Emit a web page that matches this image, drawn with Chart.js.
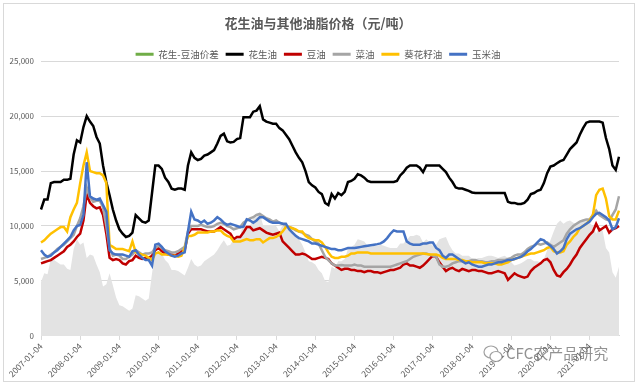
<!DOCTYPE html>
<html>
<head>
<meta charset="utf-8">
<script src="https://cdn.jsdelivr.net/npm/chart.js@4/dist/chart.umd.min.js"></script>
<style>
  body { margin: 0; background: #fff; }
  #wrap { position: relative; width: 638px; height: 385px; }
  #frame { position: absolute; left: 3px; top: 3px; width: 630px; height: 377px; border: 1px solid #d9d9d9; pointer-events: none; }
  #mark { position: absolute; left: 483px; top: 342px; color: rgba(100,100,100,0.7); font: 15px "Noto Sans CJK SC", sans-serif; white-space: nowrap; }
  #mark svg { vertical-align: -5px; margin-right: 3px; }
</style>
</head>
<body>
<div id="wrap">
  <canvas id="chart" width="638" height="385"></canvas>
  <div id="frame"></div>
  <div id="mark"><svg width="20" height="20" viewBox="0 0 20 20"><ellipse cx="8" cy="8" rx="7" ry="6" fill="none" stroke="rgba(120,120,120,0.7)" stroke-width="1.2"/><ellipse cx="13" cy="12.5" rx="6" ry="5" fill="#fff" stroke="rgba(120,120,120,0.7)" stroke-width="1.2"/></svg>CFC农产品研究</div>
</div>
<script>
/* tick labels: one per year, data is monthly (2007-01 .. 2021-10) */
var yearLabels = ['2007-01-04', '2008-01-04', '2009-01-04', '2010-01-04', '2011-01-04',
  '2012-01-04', '2013-01-04', '2014-01-04', '2015-01-04', '2016-01-04', '2017-01-04',
  '2018-01-04', '2019-01-04', '2020-01-04', '2021-01-04'];

var seriesNames = ['花生-豆油价差', '花生油', '豆油', '菜油', '葵花籽油', '玉米油'];

var spread = [
  4900, 5700, 5600, 7000, 6900, 6700, 6500, 6500, 6100, 6000, 7900, 8800,
  8300, 8500, 7100, 7400, 7300, 6500, 5800, 4500, 4700, 5700, 4600, 3500,
  2800, 2700, 2500, 2300, 2500, 3700, 3600, 3400, 3200, 3400, 5700, 7700,
  7500, 7500, 6900, 6600, 6000, 6000, 5900, 5700, 5500, 6200, 7000, 6500,
  6300, 6400, 6800, 7000, 7200, 7400, 7800, 8300, 8700, 8200, 8300, 8850,
  8900, 9000, 10500, 10000, 10000, 10800, 10800, 11100, 10100, 10100, 10100, 10100,
  10000, 9500, 10100, 10000, 9900, 9600, 9300, 8800, 8300, 7600, 6800, 6700,
  6500, 6000, 5700, 5000, 4900, 6300, 6100, 6800, 6800, 7000, 7900, 8100,
  8300, 8800, 8700, 8600, 8200, 8100, 8200, 8200, 8300, 8200, 8100, 8000,
  8000, 8000, 8400, 8400, 8700, 9100, 9100, 9200, 9100, 8500, 8800, 8500,
  8200, 8300, 8800, 8900, 9000, 8300, 7800, 7500, 7500, 7300, 7300, 7300,
  7050, 7000, 7100, 7100, 7200, 7300, 7300, 7200, 7100, 7200, 7300, 7100,
  6700, 6400, 6500, 6600, 6800, 7000, 7000, 6800, 6800, 6700, 7000, 7800,
  8700, 9500, 10200, 10500, 10200, 10400, 10500, 10300, 10200, 10300, 10500, 10600,
  10300, 10000, 9300, 9900, 9600, 8000, 7600, 5800, 5300, 6300
];

var peanutOil = [
  11500, 12400, 12400, 13900, 14000, 14000, 14000, 14200, 14200, 14300, 16500, 17800,
  17600, 19000, 20000, 19500, 19100, 18100, 17500, 15500, 14000, 12800, 11500, 10500,
  9700, 9300, 9000, 9100, 9400, 11000, 10700, 10400, 10300, 10500, 13000, 15500,
  15500, 15200, 14400, 14000, 13400, 13300, 13400, 13400, 13300, 15500, 16700, 16200,
  16000, 16100, 16400, 16500, 16700, 16900, 17500, 18200, 18400, 17700, 17600, 17650,
  17900, 18000, 19900, 19900, 19900, 20400, 20500, 20900, 19700, 19500, 19400, 19300,
  19300, 18900, 18700, 18300, 17900, 17300, 16700, 16200, 15800, 15000, 14000, 13700,
  13500, 13100, 12900, 12100, 11900, 12900, 12500, 13000, 12800, 13100, 14000, 14100,
  14300, 14700, 14600, 14400, 14100, 14000, 14000, 14000, 14000, 14000, 14000, 14000,
  14000, 14100, 14600, 14900, 15300, 15500, 15500, 15500, 15300, 14900, 15500, 15500,
  15500, 15500, 15500, 15200, 14900, 14400, 14000, 13500, 13400, 13400, 13300, 13200,
  13050, 13000, 13000, 13000, 13000, 13000, 13000, 13000, 13000, 13000, 13000, 12200,
  12100, 12100, 12000, 12000, 12100, 12400, 12900, 13000, 13200, 13300, 13900, 14800,
  15400, 15500, 15700, 15900, 16000, 16500, 17000, 17300, 17600, 18300, 18900, 19400,
  19500, 19500, 19500, 19500, 19400, 18000, 17000, 15500, 15100, 16300
];

var soyOil = [
  6600, 6700, 6800, 6900, 7100, 7300, 7500, 7700, 8100, 8300, 8600, 9000,
  9300, 10500, 12900, 12100, 11800, 11600, 11700, 11000, 9300, 7100, 6900, 7000,
  6900, 6600, 6500, 6800, 6900, 7300, 7100, 7000, 7100, 7100, 7300, 7800,
  8000, 7700, 7500, 7400, 7400, 7300, 7500, 7700, 7800, 9300, 9700, 9700,
  9700, 9700, 9600, 9500, 9500, 9500, 9700, 9900, 9700, 9500, 9300, 8800,
  9000, 9000, 9400, 9900, 9900, 9600, 9700, 9800, 9600, 9400, 9300, 9200,
  9300, 9400, 8600, 8300, 8000, 7700, 7400, 7400, 7500, 7400, 7200, 7000,
  7000, 7100, 7200, 7100, 7000, 6600, 6400, 6200, 6000, 6100, 6100, 6000,
  6000, 5900, 5900, 5800, 5900, 5900, 5800, 5800, 5700, 5800, 5900, 6000,
  6000, 6100, 6200, 6500, 6600, 6400, 6400, 6300, 6200, 6400, 6700, 7000,
  7300, 7200, 6700, 6300, 5900, 6100, 6200, 6000, 5900, 6100, 6000, 5900,
  6000, 6000, 5900, 5900, 5800, 5700, 5700, 5800, 5900, 5800, 5700, 5100,
  5400, 5700, 5500, 5400, 5300, 5400, 5900, 6200, 6400, 6600, 6900, 7000,
  6700, 6000, 5500, 5400, 5800, 6100, 6500, 7000, 7400, 8000, 8400, 8800,
  9200, 9500, 10200, 9600, 9800, 10000, 9400, 9700, 9800, 10000
];

var rapeOil = [
  7000, 7100, 7200, 7400, 7600, 7900, 8100, 8300, 8600, 8900, 9200, 10000,
  10700, 11800, 13500, 12600, 12200, 12300, 12300, 11700, 10000, 8000, 7300, 7400,
  7300, 7000, 7000, 7200, 7400, 7800, 7600, 7400, 7500, 7500, 7600, 8000,
  8200, 8000, 7800, 7700, 7600, 7600, 7700, 7900, 8100, 9500, 10000, 10000,
  10000, 10100, 10000, 9900, 9900, 10000, 10200, 10300, 10200, 10000, 9900, 9700,
  9800, 9900, 10300, 10500, 10700, 10800, 11000, 11100, 10900, 10700, 10600, 10400,
  10500, 10300, 10200, 10000, 9900, 9800, 9600, 9500, 9400, 9200, 9100, 8800,
  8600, 8400, 7800, 7200, 6900, 6600, 6400, 6400, 6450, 6400, 6400, 6400,
  6500, 6400, 6400, 6300, 6300, 6300, 6300, 6300, 6300, 6300, 6300, 6300,
  6400, 6500, 6600, 6700, 6800, 7000, 7200, 7300, 7400, 7500, 7500, 7400,
  7300, 7200, 6500, 6300, 6300, 6400, 6600, 6700, 6800, 6800, 6800, 6800,
  6900, 6900, 6800, 6800, 6700, 6700, 6800, 6800, 6900, 6900, 6900, 7000,
  7100, 7300, 7400, 7400, 7600, 7900, 8100, 8200, 8400, 8300, 8400, 8500,
  8300, 8100, 8300, 8500, 8700, 9300, 9700, 10000, 10200, 10400, 10500, 10600,
  10600, 11000, 11400, 11000, 10800, 10600, 10500, 11000, 11500, 12700
];

var sunflowerOil = [
  8500, 8700, 9000, 9300, 9500, 9700, 9900, 9900, 9500, 10800, 11500, 12100,
  13900, 15500, 16700, 15000, 14900, 14800, 14800, 14600, 13900, 8300, 8100, 7900,
  7900, 7900, 7800, 7700, 8600, 7600, 7500, 7400, 7300, 7100, 6900, 7500,
  7600, 7400, 7400, 7400, 7300, 7300, 7200, 7300, 8000, 9100, 9100, 9200,
  9400, 9400, 9400, 9400, 9500, 9500, 9600, 9600, 9300, 9100, 9000, 8600,
  8600, 8600, 8700, 8800, 8700, 8700, 8800, 8800, 8500, 8700, 8900, 8900,
  9000, 9200, 9500, 9900, 9900, 9800, 9700, 9500, 9500, 9100, 8900, 8800,
  8700, 8700, 8500, 8100, 7600, 7200, 7100, 7100, 7200, 7200, 7300, 7500,
  7500, 7600, 7600, 7600, 7600, 7500, 7500, 7500, 7500, 7500, 7500, 7500,
  7500, 7500, 7500, 7500, 7500, 7500, 7500, 7500, 7500, 7500, 7450, 7400,
  7400, 7400, 7300, 7100, 7000, 7000, 7000, 7000, 6900, 6900, 6800, 6800,
  6700, 6700, 6700, 6700, 6600, 6600, 6600, 6600, 6500, 6500, 6600, 6700,
  6900, 7000, 7100, 7200, 7300, 7400, 7500, 7500, 7600, 7700, 7800, 8000,
  8100, 7700, 7600, 7600, 7700, 8300, 8600, 9000, 9300, 9800, 10000, 10200,
  10500, 11000, 12800, 13300, 13400, 12500, 10900, 10600, 10600, 11400
];

var cornOil = [
  7800, 7400, 7200, 7300, 7600, 7800, 8100, 8400, 8700, 9000, 9600, 10000,
  10100, 11000, 15800, 12700, 12500, 12400, 12500, 11900, 11300, 7800, 7500, 7400,
  7400, 7400, 7300, 7200, 7700, 7800, 7400, 7100, 6900, 6900, 6400, 8300,
  8400, 8100, 7700, 7500, 7300, 7200, 7300, 7500, 7600, 9500, 11300, 10600,
  10500, 10300, 10500, 10200, 10300, 10500, 10800, 10600, 10300, 10100, 10200, 10100,
  10000, 9900, 9950, 10600, 10500, 10300, 10500, 10800, 10800, 10600, 10400, 10300,
  10300, 10300, 10200, 10200, 9700, 9400, 9100, 8900, 8800, 8700, 8600, 8400,
  8400, 8300, 8200, 8100, 8000, 7900, 7900, 7800, 7800, 7900, 8000, 8000,
  8000, 8050, 8100, 8150, 8200, 8250, 8300, 8350, 8420, 8600, 8900, 9300,
  9600, 9500, 9500, 9500, 8600, 8400, 8300, 8300, 8300, 8400, 8400, 8500,
  8500, 8000, 7800, 7300, 7100, 7400, 7400, 7200, 7000, 6800, 6600, 6700,
  6500, 6400, 6300, 6300, 6400, 6500, 6500, 6600, 6700, 6700, 6800, 6900,
  6900, 7000, 7100, 7200, 7400, 7700, 7900, 8200, 8500, 8800, 8700, 8400,
  8200, 7900, 7500, 7700, 8000, 8800, 9300, 9500, 9700, 9800, 10000, 10200,
  10400, 10800, 11100, 11200, 11000, 10800, 10500, 9700, 9900, 10700
];

var lineColors = ['#70ad47', '#000000', '#c00000', '#a5a5a5', '#ffc000', '#4472c4'];
var areaColor = '#e3e3e3';
var textColor = '#595959';
var fontFamily = '"Noto Sans CJK SC", "Noto Sans", sans-serif';

/* monthly categories, the 4th of every month */
var categories = [];
yearLabels.forEach(function (y) {
  var year = y.slice(0, 4);
  for (var mo = 1; mo <= 12 && categories.length < peanutOil.length; mo++) {
    categories.push(year + '-' + (mo < 10 ? '0' + mo : mo) + '-04');
  }
});

function lineSet(i, data) {
  return {
    label: seriesNames[i],
    data: data,
    borderColor: lineColors[i],
    backgroundColor: lineColors[i],
    borderWidth: 2.5,
    pointRadius: 0,
    tension: 0,
    fill: false,
    order: 6 - i
  };
}

/* legend sits close to the plot, like the original */
var legendGap = {
  id: 'legendGap',
  beforeInit: function (c) {
    var fit = c.legend.fit;
    c.legend.fit = function () {
      fit.bind(c.legend)();
      this.height -= 8;
    };
  }
};

var ctx = document.getElementById('chart').getContext('2d');
var chart = new Chart(ctx, {
  type: 'line',
  data: {
    labels: categories,
    datasets: [
      {
        label: seriesNames[0],
        data: spread,
        borderWidth: 0,
        borderColor: areaColor,
        backgroundColor: areaColor,
        pointRadius: 0,
        fill: 'origin',
        order: 10
      },
      lineSet(1, peanutOil),
      lineSet(2, soyOil),
      lineSet(3, rapeOil),
      lineSet(4, sunflowerOil),
      lineSet(5, cornOil)
    ]
  },
  plugins: [legendGap],
  options: {
    responsive: false,
    animation: false,
    devicePixelRatio: 1,
    layout: { padding: { left: 0, right: 2, top: 5, bottom: 5 } },
    plugins: {
      title: {
        display: true,
        text: '花生油与其他油脂价格（元/吨）',
        color: textColor,
        font: { family: fontFamily, size: 13 },
        padding: { top: 10, bottom: 12 }
      },
      legend: {
        position: 'top',
        labels: {
          color: textColor,
          font: { family: fontFamily, size: 9.5 },
          boxWidth: 18,
          boxHeight: 3,
          padding: 7,
          sort: function (a, b) { return a.datasetIndex - b.datasetIndex; },
          generateLabels: function (c) {
            return c.data.datasets.map(function (ds, i) {
              return {
                text: ds.label,
                fillStyle: lineColors[i],
                strokeStyle: lineColors[i],
                lineWidth: 0,
                fontColor: textColor,
                hidden: false,
                datasetIndex: i
              };
            });
          }
        }
      },
      tooltip: { enabled: false }
    },
    scales: {
      x: {
        type: 'category',
        offset: false,
        afterBuildTicks: function (axis) {
          axis.ticks = axis.ticks.filter(function (t) { return t.value % 12 === 0; });
        },
        ticks: {
          autoSkip: false,
          minRotation: 45,
          maxRotation: 45,
          color: textColor,
          font: { family: fontFamily, size: 8.5 },
          padding: 1
        },
        grid: { drawOnChartArea: false, drawTicks: true, tickLength: 4, color: '#d9d9d9' },
        border: { color: '#d9d9d9' }
      },
      y: {
        min: 0,
        max: 25000,
        afterFit: function (axis) { axis.width = 41; },
        ticks: {
          stepSize: 5000,
          color: textColor,
          font: { family: fontFamily, size: 8 },
          padding: 7,
          callback: function (v) { return v.toLocaleString('en-US'); }
        },
        grid: { color: '#d9d9d9', drawTicks: false },
        border: { display: false }
      },
      /* empty right-hand spacer so the title and legend centre on the whole picture */
      spacer: {
        type: 'linear',
        position: 'right',
        display: true,
        ticks: { display: false },
        grid: { display: false },
        border: { display: false },
        afterFit: function (axis) { axis.width = 17; }
      }
    }
  }
});
</script>
</body>
</html>
